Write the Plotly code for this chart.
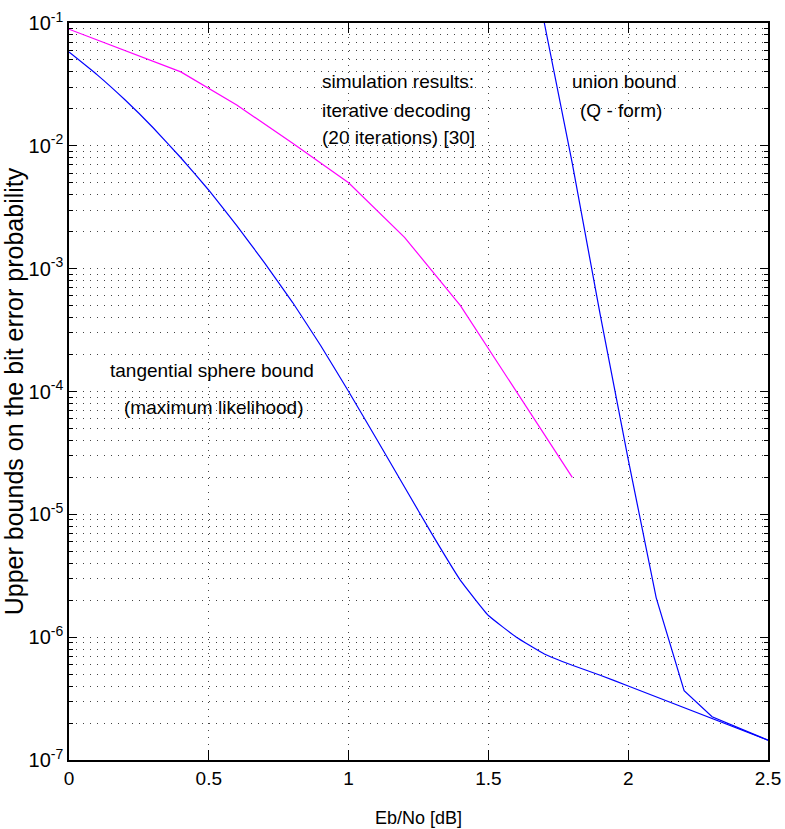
import plotly.graph_objects as go

# Tangential sphere bound (maximum likelihood)
tsb_x = [0.0, 0.1, 0.2, 0.3, 0.4, 0.5, 0.6, 0.7, 0.8, 0.9, 1.0, 1.1, 1.2, 1.3, 1.4,
         1.5, 1.6, 1.7, 1.8, 1.9, 2.0, 2.5]
tsb_y = [5.8e-2, 3.8e-2, 2.37e-2, 1.41e-2, 8.0e-3, 4.35e-3, 2.24e-3, 1.11e-3, 5.3e-4,
         2.37e-4, 1.0e-4, 4.1e-5, 1.67e-5, 6.8e-6, 2.9e-6, 1.5e-6, 1.0e-6, 7.3e-7,
         5.9e-7, 4.9e-7, 4.0e-7, 1.45e-7]

# Simulation results: iterative decoding (20 iterations)
sim_x = [0.0, 0.4, 0.6, 0.8, 1.0, 1.2, 1.4, 1.6, 1.8]
sim_y = [8.9e-2, 4.0e-2, 2.15e-2, 1.05e-2, 5.0e-3, 1.8e-3, 5.0e-4, 1.0e-4, 2.0e-5]

# Union bound (Q-form)
ub_x = [1.7, 1.8, 1.9, 2.0, 2.1, 2.2, 2.3, 2.4, 2.5]
ub_y = [1.0e-1, 7.2e-3, 4.2e-4, 2.8e-5, 2.1e-6, 3.66e-7, 2.25e-7, 1.8e-7, 1.45e-7]

x_ticks = [0, 0.5, 1, 1.5, 2, 2.5]
x_ticktext = ["0", "0.5", "1", "1.5", "2", "2.5"]
y_exps = [-7, -6, -5, -4, -3, -2, -1]
y_ticks = [10.0 ** e for e in y_exps]
y_ticktext = ["10<sup>%d</sup>" % e for e in y_exps]
y_minor = [k * 10.0 ** e for e in y_exps[:-1] for k in range(2, 10)]

FONT = "Liberation Sans, Arial, Helvetica, sans-serif"
GRID = "#444444"
DASH = "1px,6px"

fig = go.Figure()
fig.add_trace(go.Scatter(x=tsb_x, y=tsb_y, mode="lines", line_shape="spline",
                         line=dict(color="#0000ff", width=1.2, smoothing=0.3),
                         showlegend=False))
fig.add_trace(go.Scatter(x=sim_x, y=sim_y, mode="lines",
                         line=dict(color="#ff00ff", width=1.2), showlegend=False))
fig.add_trace(go.Scatter(x=ub_x, y=ub_y, mode="lines",
                         line=dict(color="#0000ff", width=1.2), showlegend=False))

fig.update_layout(
    width=785, height=829,
    margin=dict(l=69, r=17, t=23, b=69),
    paper_bgcolor="white", plot_bgcolor="white",
    font=dict(family=FONT, color="black", size=18),
    xaxis=dict(
        range=[0, 2.5], tickmode="array", tickvals=x_ticks, ticktext=x_ticktext,
        ticks="inside", ticklen=10, tickcolor="black", tickwidth=1,
        showline=True, linecolor="black", linewidth=1.5, mirror="ticks",
        showgrid=True, gridcolor=GRID, griddash=DASH, gridwidth=1,
        zeroline=False, tickfont=dict(size=19), automargin=False,
        title=dict(text="Eb/No [dB]", font=dict(size=18), standoff=24),
    ),
    yaxis=dict(
        type="log", range=[-7, -1], tickmode="array", tickvals=y_ticks,
        ticktext=y_ticktext,
        ticks="inside", ticklen=8, tickcolor="black", tickwidth=1,
        showline=True, linecolor="black", linewidth=1.5, mirror="ticks",
        showgrid=True, gridcolor=GRID, griddash=DASH, gridwidth=1,
        zeroline=False, tickfont=dict(size=20), automargin=False,
        minor=dict(tickmode="array", tickvals=y_minor, ticks="inside", ticklen=4,
                   tickcolor="black", showgrid=True, gridcolor=GRID,
                   griddash=DASH, gridwidth=1),
        title=dict(text="Upper bounds on the bit error probability",
                   font=dict(size=25), standoff=6),
    ),
)

def ann(text, px, py, anchor="left"):
    fig.add_annotation(text=text, xref="paper", yref="paper",
                       x=(px - 69) / 699.0, y=(760 - py) / 737.0,
                       xanchor=anchor, yanchor="middle", showarrow=False,
                       font=dict(size=19, family=FONT, color="black"))

ann("simulation results:", 320, 82)
ann("iterative decoding", 320, 110)
ann("(20 iterations) [30]", 320, 138)
ann("union bound", 624, 82, "center")
ann("(Q - form)", 621, 110, "center")
ann("tangential sphere bound", 212, 371, "center")
ann("(maximum likelihood)", 214, 407, "center")

fig.write_html("out.html")
